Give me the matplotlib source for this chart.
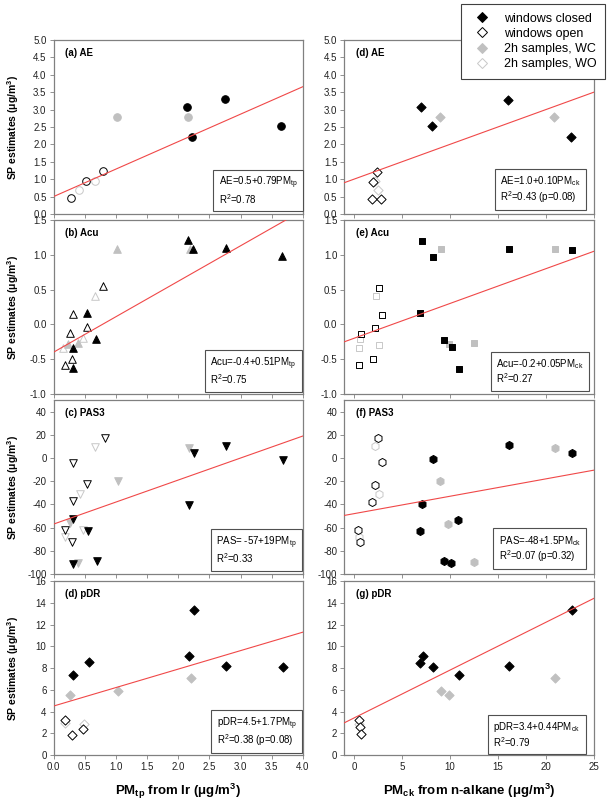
import matplotlib
matplotlib.use('Agg')
import matplotlib.pyplot as plt
from matplotlib.lines import Line2D
from matplotlib.offsetbox import AnchoredText
from matplotlib.ticker import FormatStrFormatter

plt.rcParams['font.family'] = ['Liberation Sans', 'DejaVu Sans']
plt.rcParams['mathtext.fontset'] = 'custom'
plt.rcParams['mathtext.rm'] = 'Liberation Sans'
plt.rcParams['mathtext.it'] = 'Liberation Sans:italic'
plt.rcParams['mathtext.bf'] = 'Liberation Sans:bold'

# group codes: C = windows closed, O = windows open, WC / WO = 2h samples
# --- left column: SP estimates vs PM_tp from Ir ---
ae_tp_x = [2.14, 2.22, 2.75, 3.65, 0.28, 0.52, 0.79, 1.02, 2.16, 0.41, 0.66]
ae_tp_y = [3.08, 2.22, 3.30, 2.53, 0.45, 0.94, 1.23, 2.80, 2.78, 0.69, 0.95]
ae_tp_g = ['C', 'C', 'C', 'C', 'O', 'O', 'O', 'WC', 'WC', 'WO', 'WO']

acu_tp_x = [2.16, 2.24, 2.76, 3.66, 0.54, 0.68, 0.31, 0.31,
            0.80, 0.31, 0.53, 0.27, 0.29, 0.18,
            1.02, 2.19, 0.24, 0.39, 0.67, 0.47, 0.15]
acu_tp_y = [1.21, 1.08, 1.10, 0.98, 0.17, -0.21, -0.34, -0.63,
            0.55, 0.15, -0.04, -0.13, -0.49, -0.59,
            1.09, 1.09, -0.28, -0.27, 0.41, -0.20, -0.34]
acu_tp_g = ['C'] * 8 + ['O'] * 6 + ['WC'] * 4 + ['WO'] * 3

pas_tp_x = [2.25, 2.77, 3.68, 2.17, 0.32, 0.56, 0.32, 0.70,
            0.82, 0.31, 0.54, 0.32, 0.19, 0.29,
            2.18, 1.04, 0.27, 0.39, 0.67, 0.43, 0.47, 0.18]
pas_tp_y = [4.5, 10.5, -1.7, -40.3, -52.9, -63.2, -91.4, -88.9,
            17.1, -4.0, -22.3, -37.4, -61.7, -72.8,
            8.6, -19.5, -55.7, -90.3, 9.9, -30.9, -61.7, -68.0]
pas_tp_g = ['C'] * 8 + ['O'] * 6 + ['WC'] * 4 + ['WO'] * 4

pdr_tp_x = [2.25, 2.17, 0.57, 0.32, 2.77, 3.68, 0.19, 0.48, 0.30,
            2.20, 1.04, 0.27, 0.18, 0.49]
pdr_tp_y = [13.3, 9.06, 8.52, 7.37, 8.21, 8.05, 3.2, 2.41, 1.88,
            7.05, 5.89, 5.49, 2.9, 2.82]
pdr_tp_g = ['C'] * 6 + ['O'] * 3 + ['WC'] * 3 + ['WO'] * 2

# --- right column: SP estimates vs PM_ck from n-alkane ---
ae_ck_x = [7.04, 8.15, 16.1, 22.6, 2.42, 2.0, 1.84, 2.87, 8.95, 20.9, 2.2, 2.55]
ae_ck_y = [3.07, 2.52, 3.28, 2.22, 1.21, 0.93, 0.43, 0.43, 2.80, 2.78, 0.96, 0.68]
ae_ck_g = ['C'] * 4 + ['O'] * 4 + ['WC'] * 2 + ['WO'] * 2

acu_ck_x = [7.13, 8.25, 16.2, 22.7, 6.89, 9.39, 10.2, 11.0,
            2.57, 2.95, 2.22, 0.71, 1.96, 0.5,
            9.05, 21.0, 9.87, 12.5, 2.29, 2.66, 0.6, 0.55]
acu_ck_y = [1.20, 0.97, 1.09, 1.07, 0.17, -0.22, -0.33, -0.64,
            0.53, 0.14, -0.05, -0.14, -0.50, -0.59,
            1.08, 1.08, -0.28, -0.27, 0.41, -0.29, -0.21, -0.34]
acu_ck_g = ['C'] * 8 + ['O'] * 6 + ['WC'] * 4 + ['WO'] * 4

pas_ck_x = [16.2, 22.7, 8.2, 7.07, 6.87, 10.9, 9.38, 10.1,
            2.48, 2.9, 2.2, 1.9, 0.42, 0.67,
            21.0, 9.0, 9.85, 12.5, 2.2, 2.58, 0.52]
pas_ck_y = [10.8, 4.6, -1.2, -40.0, -63.0, -53.3, -88.5, -90.8,
            17.4, -3.4, -23.0, -37.8, -62.0, -72.8,
            8.3, -19.8, -56.7, -90.0, 10.3, -31.0, -68.0]
pas_ck_g = ['C'] * 8 + ['O'] * 6 + ['WC'] * 4 + ['WO'] * 3

pdr_ck_x = [22.7, 7.15, 6.94, 8.26, 11.0, 16.2, 0.5, 0.6, 0.73,
            9.06, 9.9, 21.0, 0.55]
pdr_ck_y = [13.3, 9.1, 8.5, 8.06, 7.36, 8.2, 3.25, 2.56, 1.95,
            5.9, 5.5, 7.1, 2.85]
pdr_ck_g = ['C'] * 6 + ['O'] * 3 + ['WC'] * 3 + ['WO']

# regression fits (intercept, slope) and labels
fit_tp = [(0.5, 0.79), (-0.4, 0.51), (-57, 19), (4.5, 1.7)]
fit_ck = [(1.0, 0.10), (-0.2, 0.05), (-48, 1.5), (3.4, 0.44)]
eq_tp = ['AE=0.5+0.79PM$_{\\mathrm{tp}}$\nR$^{2}$=0.78',
         'Acu=-0.4+0.51PM$_{\\mathrm{tp}}$\nR$^{2}$=0.75',
         'PAS= -57+19PM$_{\\mathrm{tp}}$\nR$^{2}$=0.33',
         'pDR=4.5+1.7PM$_{\\mathrm{tp}}$\nR$^{2}$=0.38 (p=0.08)']
eq_ck = ['AE=1.0+0.10PM$_{\\mathrm{ck}}$\nR$^{2}$=0.43 (p=0.08)',
         'Acu=-0.2+0.05PM$_{\\mathrm{ck}}$\nR$^{2}$=0.27',
         'PAS=-48+1.5PM$_{\\mathrm{ck}}$\nR$^{2}$=0.07 (p=0.32)',
         'pDR=3.4+0.44PM$_{\\mathrm{ck}}$\nR$^{2}$=0.79']
titles_tp = ['(a) AE', '(b) Acu', '(c) PAS3', '(d) pDR']
titles_ck = ['(d) AE', '(e) Acu', '(f) PAS3', '(g) pDR']
markers_tp = ['o', '^', 'v', 'D']
markers_ck = ['D', 's', 'h', 'D']

data_tp = [(ae_tp_x, ae_tp_y, ae_tp_g), (acu_tp_x, acu_tp_y, acu_tp_g),
           (pas_tp_x, pas_tp_y, pas_tp_g), (pdr_tp_x, pdr_tp_y, pdr_tp_g)]
data_ck = [(ae_ck_x, ae_ck_y, ae_ck_g), (acu_ck_x, acu_ck_y, acu_ck_g),
           (pas_ck_x, pas_ck_y, pas_ck_g), (pdr_ck_x, pdr_ck_y, pdr_ck_g)]

ylims = [(0, 5), (-1, 1.5), (-100, 50), (0, 16)]
ysteps = [0.5, 0.5, 20, 2]
yfmt = ['%.1f', '%.1f', '%d', '%d']

styles = {'C': ('black', 'black'), 'O': ('white', 'black'),
          'WC': ('#c0c0c0', '#c0c0c0'), 'WO': ('white', '#c8c8c8')}
msize = {'o': 30, '^': 30, 'v': 30, 'D': 22, 's': 24, 'h': 34}
frame_col = '#808080'

fig = plt.figure(figsize=(6.09, 8.05), dpi=100)

row_tops = [40, 220, 400, 581]
col_left = [53.5, 344.3]
col_w = 249.5
row_h = 174

# box anchors (right, bottom) in axes fraction
box_tp = [(1.0, 0.017), (0.995, 0.013), (0.995, 0.019), (0.997, 0.01)]
box_ck = [(0.969, 0.023), (0.98, 0.02), (0.969, 0.027), (0.967, 0.006)]


def draw_panel(ax, data, marker, fit, eq, title, i, xlim, xstep, xfmt, box):
    xs, ys, gs = data
    for grp in ['WO', 'WC', 'O', 'C']:
        px = [x for x, g in zip(xs, gs) if g == grp]
        py = [y for y, g in zip(ys, gs) if g == grp]
        fc, ec = styles[grp]
        ax.scatter(px, py, marker=marker, s=msize[marker], facecolor=fc,
                   edgecolor=ec, linewidth=0.7, zorder=2)
    a, b = fit
    ax.plot(xlim, [a + b * xlim[0], a + b * xlim[1]], color='#f04848',
            lw=0.8, zorder=3)
    ax.set_xlim(xlim)
    ax.set_ylim(ylims[i])
    lo, hi = ylims[i]
    yt = []
    v = lo
    while v <= hi + 1e-9:
        yt.append(v)
        v += ysteps[i]
    if i == 2:
        yt = [t for t in yt if t <= 40]
    ax.set_yticks(yt)
    ax.yaxis.set_major_formatter(FormatStrFormatter(yfmt[i]))
    xt = []
    v = max(0, xlim[0])
    while v <= xlim[1] + 1e-9:
        xt.append(v)
        v += xstep
    ax.set_xticks(xt)
    ax.xaxis.set_major_formatter(FormatStrFormatter(xfmt))
    if i < 3:
        ax.tick_params(axis='x', labelbottom=False)
    for sp in ax.spines.values():
        sp.set_color(frame_col)
        sp.set_linewidth(0.9)
    ax.tick_params(length=3, width=0.6, color=frame_col, labelsize=7,
                   labelcolor='#222222', pad=2)
    ax.text(0.045, 0.925, title, transform=ax.transAxes, fontsize=7,
            fontweight='bold', va='center', ha='left')
    at = AnchoredText(eq, loc='lower right', bbox_to_anchor=box,
                      bbox_transform=ax.transAxes, borderpad=0,
                      frameon=True, pad=0.55, prop=dict(fontsize=7))
    at.txt._text.set_linespacing(1.05)
    at.patch.set_boxstyle('square,pad=0')
    at.patch.set_edgecolor('#505050')
    at.patch.set_linewidth(0.8)
    ax.add_artist(at)


for i in range(4):
    top = row_tops[i]
    bottom = 1 - (top + row_h) / 805
    axl = fig.add_axes([col_left[0] / 609, bottom, col_w / 609, row_h / 805])
    draw_panel(axl, data_tp[i], markers_tp[i], fit_tp[i], eq_tp[i],
               titles_tp[i], i, (0, 4), 0.5, '%.1f', box_tp[i])
    axl.set_ylabel('SP estimates (μg/m$^{\\mathbf{3}}$)', fontsize=7.5,
                   fontweight='bold')
    axl.yaxis.set_label_coords(-0.13, 0.5)
    axr = fig.add_axes([col_left[1] / 609, bottom, col_w / 609, row_h / 805])
    draw_panel(axr, data_ck[i], markers_ck[i], fit_ck[i], eq_ck[i],
               titles_ck[i], i, (-1, 25), 5, '%d', box_ck[i])

fig.text(178 / 609, 1 - 791 / 805,
         '$\\mathbf{PM}_{\\mathbf{tp}}$ from Ir (μg/m$^{\\mathbf{3}}$)',
         fontsize=9.5, fontweight='bold', ha='center', va='center')
fig.text(469 / 609, 1 - 791 / 805,
         '$\\mathbf{PM}_{\\mathbf{ck}}$ from n-alkane (μg/m$^{\\mathbf{3}}$)',
         fontsize=9.5, fontweight='bold', ha='center', va='center')

legend_labels = ['windows closed', 'windows open', '2h samples, WC', '2h samples, WO']
handles = []
for grp, lab in zip(['C', 'O', 'WC', 'WO'], legend_labels):
    fc, ec = styles[grp]
    handles.append(Line2D([], [], marker='D', ls='none', markersize=5.5,
                          markerfacecolor=fc, markeredgecolor=ec,
                          markeredgewidth=0.7, label=lab))
leg = fig.legend(handles=handles, loc='upper right',
                 bbox_to_anchor=(605 / 609, 1 - 4 / 805), fontsize=9,
                 frameon=True, fancybox=False, edgecolor='#404040',
                 framealpha=1, labelspacing=0.25, handletextpad=0.7,
                 borderpad=0.7, handlelength=2.0, borderaxespad=0)
leg.get_frame().set_linewidth(0.8)

fig.savefig('out.png', dpi=100)
